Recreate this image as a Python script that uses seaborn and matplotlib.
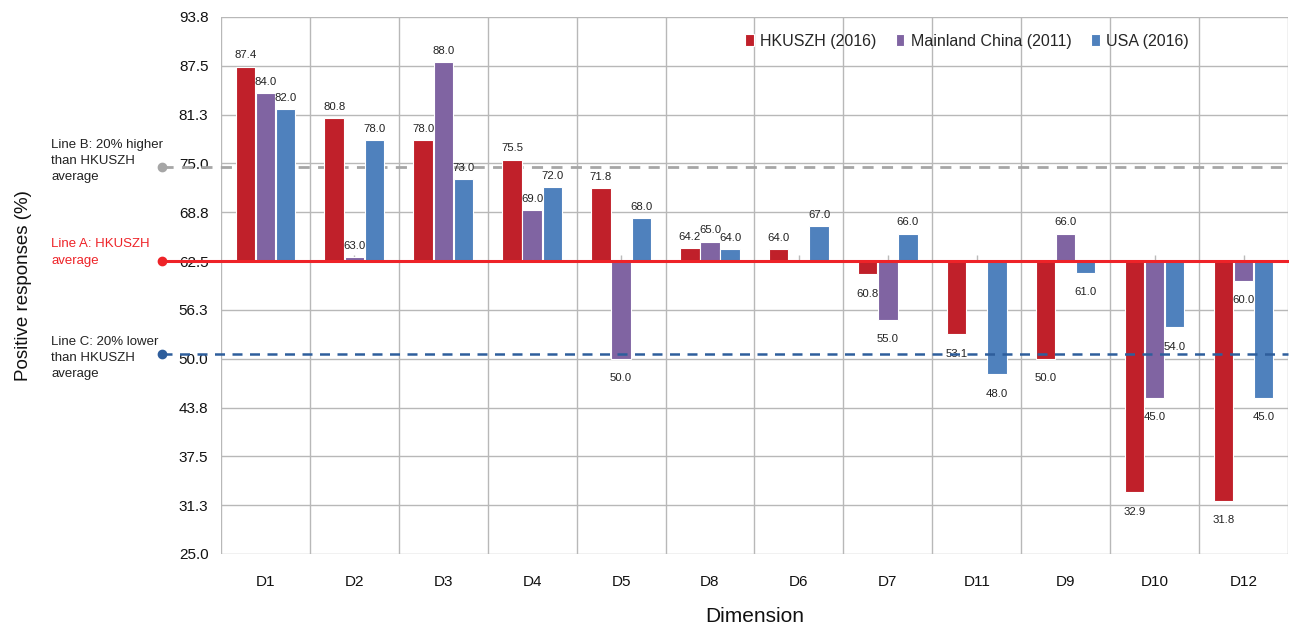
import matplotlib
matplotlib.use("Agg")
import matplotlib.pyplot as plt
import matplotlib.transforms as mtrans
import numpy as np
import pandas as pd
import seaborn as sns

# ---------------- data ----------------
categories = ["D1", "D2", "D3", "D4", "D5", "D8", "D6", "D7", "D11", "D9", "D10", "D12"]
hkuszh = [87.4, 80.8, 78.0, 75.5, 71.8, 64.2, 64.0, 60.8, 53.1, 50.0, 32.9, 31.8]
mainland = [84.0, 63.0, 88.0, 69.0, 50.0, 65.0, np.nan, 55.0, np.nan, 66.0, 45.0, 60.0]
usa = [82.0, 78.0, 73.0, 72.0, 68.0, 64.0, 67.0, 66.0, 48.0, 61.0, 54.0, 45.0]
series_names = ["HKUSZH (2016)", "Mainland China (2011)", "USA (2016)"]
line_a = 62.5   # HKUSZH average (baseline)
line_b = 74.6   # 20% higher
line_c = 50.6   # 20% lower
y_ticks = [25.0, 31.25, 37.5, 43.75, 50.0, 56.25, 62.5, 68.75, 75.0, 81.25, 87.5, 93.75]
y_tick_labels = ["25.0", "31.3", "37.5", "43.8", "50.0", "56.3", "62.5", "68.8",
                 "75.0", "81.3", "87.5", "93.8"]

colors = ["#C0202A", "#8064A2", "#4F81BD"]

rows = []
for name, vals in zip(series_names, [hkuszh, mainland, usa]):
    for c, v in zip(categories, vals):
        rows.append({"Dimension": c, "Series": name, "value": v})
df = pd.DataFrame(rows).dropna()
df["delta"] = df["value"] - line_a

# ---------------- figure ----------------
sns.set_theme(style="white")
plt.rcParams["font.family"] = ["Liberation Sans", "DejaVu Sans"]

fig = plt.figure(figsize=(12.89, 6.24), dpi=100)
ax = fig.add_axes([0.1714, 0.1122, 0.8278, 0.8606])

sns.barplot(data=df, x="Dimension", y="delta", hue="Series", order=categories,
            hue_order=series_names, palette=colors, width=0.68, gap=0.04,
            bottom=line_a, edgecolor="white", linewidth=0.8, errorbar=None,
            ax=ax, zorder=3, saturation=1, legend=False)

for cont in ax.containers:
    vals = [p.get_y() + p.get_height() for p in cont.patches]
    up = [f"{v:.1f}" if v >= line_a else "" for v in vals]
    down = [f"{v:.1f}" if v < line_a else "" for v in vals]
    ax.bar_label(cont, labels=up, padding=4.5, fontsize=8.2, color="#222222")
    ax.bar_label(cont, labels=down, padding=10.5, fontsize=8.2, color="#222222")

ax.set_xlim(-0.5, len(categories) - 0.5)
ax.set_ylim(y_ticks[0], y_ticks[-1])
ax.set_yticks(y_ticks)
ax.set_yticklabels(y_tick_labels)
ax.set_xticks(range(len(categories)))
ax.set_xticklabels(categories)
ax.set_xticks(np.arange(-0.5, len(categories), 1.0), minor=True)
ax.tick_params(axis="x", which="both", length=0, pad=15, labelsize=11, labelcolor="#111111")
ax.tick_params(axis="y", length=0, pad=9, labelsize=11, labelcolor="#111111")
ax.grid(axis="y", which="major", color="#B8B8B8", lw=1, zorder=0)
ax.grid(axis="x", which="minor", color="#B8B8B8", lw=1, zorder=0)
ax.grid(axis="x", which="major", visible=False)
ax.set_axisbelow(True)
for s in ax.spines.values():
    s.set_visible(False)

ax.set_xlabel("Dimension", fontsize=15, labelpad=13, color="#111111")
ax.set_ylabel("Positive responses (%)", fontsize=13.5, color="#111111")
ax.yaxis.set_label_coords(-0.177, 0.5)

# small category ticks on the baseline
ax.vlines(range(len(categories)), line_a, line_a + 0.8, color="#BBBBBB", lw=1, zorder=2)

# reference lines extending to the left
tr = mtrans.blended_transform_factory(ax.transAxes, ax.transData)
x0 = -0.055
ax.plot([x0, 1], [line_b, line_b], transform=tr, clip_on=False, color="#A6A6A6",
        lw=2, ls=(0, (4, 3)), zorder=2)
ax.plot([x0], [line_b], "o", transform=tr, clip_on=False, color="#A6A6A6", ms=6, zorder=2)
ax.plot([x0, 1], [line_c, line_c], transform=tr, clip_on=False, color="#2E5E9C",
        lw=1.8, ls=(0, (4, 3)), zorder=5)
ax.plot([x0], [line_c], "o", transform=tr, clip_on=False, color="#2E5E9C", ms=6, zorder=5)
ax.plot([x0, 1], [line_a, line_a], transform=tr, clip_on=False, color="#EE2328",
        lw=2.2, zorder=5)
ax.plot([x0], [line_a], "o", transform=tr, clip_on=False, color="#EE2328", ms=6, zorder=5)

trf = mtrans.blended_transform_factory(fig.transFigure, ax.transData)
ax.text(51 / 1289, 75.3, "Line B: 20% higher\nthan HKUSZH\naverage", transform=trf,
        fontsize=9.5, va="center", ha="left", color="#222222", linespacing=1.45)
ax.text(51 / 1289, 63.6, "Line A: HKUSZH\naverage", transform=trf,
        fontsize=9.5, va="center", ha="left", color="#EE2328", linespacing=1.45)
ax.text(51 / 1289, 50.1, "Line C: 20% lower\nthan HKUSZH\naverage", transform=trf,
        fontsize=9.5, va="center", ha="left", color="#222222", linespacing=1.45)

leg = ax.legend(ax.containers[:3], series_names, loc="center",
                bbox_to_anchor=(0.699, 0.955), ncol=3, frameon=False,
                handlelength=0.55, handleheight=0.7, handletextpad=0.4,
                columnspacing=1.2, fontsize=11.5)

fig.savefig("out.png", dpi=100)
